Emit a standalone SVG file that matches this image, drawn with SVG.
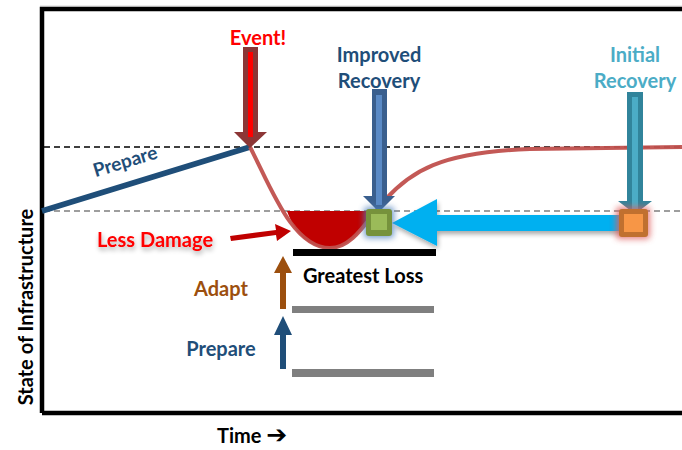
<svg xmlns="http://www.w3.org/2000/svg" width="682" height="450" viewBox="0 0 682 450">
<style>
text{font-family:Lato,"Open Sans","Liberation Sans",sans-serif;font-weight:bold;}
.t20{font-size:20px;}
.mid{text-anchor:middle;}
.frame{stroke:#000;stroke-width:4.5;fill:none;}
.dash-b{stroke:#000;stroke-width:1.6;stroke-dasharray:6 4;fill:none;}
.dash-g{stroke:#7f7f7f;stroke-width:1.6;stroke-dasharray:6 4;fill:none;}
.bar-g{fill:#7f7f7f;}
</style>
<defs>
<filter id="shadow" x="-20%" y="-40%" width="140%" height="200%">
<feGaussianBlur in="SourceAlpha" stdDeviation="2.5"/>
<feOffset dx="1" dy="3" result="b"/>
<feComponentTransfer><feFuncA type="linear" slope="0.35"/></feComponentTransfer>
<feMerge><feMergeNode/><feMergeNode in="SourceGraphic"/></feMerge>
</filter>
<filter id="blur" x="-50%" y="-50%" width="200%" height="200%">
<feGaussianBlur stdDeviation="3"/>
</filter>
</defs>

<g id="axes">
<line x1="40" y1="6" x2="682" y2="6" stroke="#d9d9d9" stroke-width="1"/>
<path class="frame" d="M42,413 L42,9 L682,9 M42,413 L682,413"/>
</g>

<g id="reference-lines">
<line class="dash-b" x1="44" y1="147" x2="682" y2="147"/>
<line class="dash-g" x1="44" y1="211" x2="682" y2="211"/>
</g>

<g id="loss-area">
<path d="M287,211 C296,236 310,248 330,248 C348,248 360,232 372,214 L372,211 Z" fill="#c00000"/>
</g>

<g id="connectors">
<line x1="42" y1="211" x2="250" y2="147" stroke="#1f4e79" stroke-width="5.5"/>
<path d="M250,147 C270,185 292,248 330,248 C352,248 366,222 385,200 C410,172 440,152 530,149 L682,147" fill="none" stroke="#c0504d" stroke-width="4" opacity="0.95"/>
<polygon points="230,236 276,230 275,224 291,231 277,241 276,235 231,241" fill="#c00000"/>
<polygon points="280,309 286,309 286,273 292,273 283,256 274,273 280,273" fill="#9c4f0e"/>
<polygon points="280,369 286,369 286,335 292,335 283,316 274,335 280,335" fill="#1f4e79"/>
<polygon points="392,223 437,199 437,215 625,215 625,231 437,231 437,246" fill="#00b0f0" filter="url(#shadow)"/>
</g>

<g id="event">
<text class="t20 mid" x="258" y="45" fill="#ff0000">Event!</text>
<polygon points="243,47 258,47 258,132 267,132 250,148 234,132 243,132" fill="#8c3636"/>
<rect x="248" y="52" width="5" height="85" fill="#ff0000"/>
</g>

<g id="prepare-slope-label">
<text x="125" y="168" class="mid" font-size="19" fill="#1f4e79" transform="rotate(-17 125 161)">Prepare</text>
</g>

<g id="improved-recovery">
<text class="t20 mid" x="379" y="62" fill="#1f4e79">Improved</text>
<text class="t20 mid" x="379" y="88" fill="#1f4e79">Recovery</text>
<polygon points="372,89 387,89 387,196 395,196 379,212 363,196 372,196" fill="#3a5f8e"/>
<rect x="376" y="95" width="6" height="110" fill="#5a8ac6"/>
</g>

<g id="improved-point">
<rect x="364" y="207" width="30" height="31" rx="4" fill="#4f81bd" filter="url(#blur)" opacity="0.8"/>
<rect x="366" y="209" width="26" height="27" rx="3" fill="#76923c"/>
<rect x="371" y="214" width="16" height="16" fill="#9bbb59"/>
</g>

<g id="initial-recovery">
<text class="t20 mid" x="635" y="62" fill="#4bacc6">Initial</text>
<text class="t20 mid" x="635" y="88" fill="#4bacc6">Recovery</text>
<polygon points="627,92 643,92 643,201 652,201 635,214 618,201 627,201" fill="#31849b"/>
<rect x="632" y="97" width="6" height="112" fill="#4bacc6"/>
</g>

<g id="initial-point">
<rect x="616" y="207" width="34" height="32" rx="4" fill="#e06060" filter="url(#blur)" opacity="0.8"/>
<rect x="619" y="209" width="29" height="28" rx="3" fill="#c0702f"/>
<rect x="624" y="214" width="19" height="18" fill="#f79646"/>
</g>

<g id="less-damage">
<text class="t20" x="97" y="247" fill="#ff0000" filter="url(#shadow)">Less Damage</text>
</g>

<g id="greatest-loss">
<rect x="293" y="249" width="143" height="7" fill="#000"/>
<text class="t20" x="303" y="283" fill="#000">Greatest Loss</text>
</g>

<g id="adapt">
<rect class="bar-g" x="292" y="306" width="142" height="7"/>
<text class="t20 mid" x="221" y="296" fill="#9c4f0e">Adapt</text>
</g>

<g id="prepare">
<rect class="bar-g" x="292" y="369" width="142" height="8"/>
<text class="t20 mid" x="221" y="356" fill="#1f4e79">Prepare</text>
</g>

<g id="axis-labels">
<text class="t20" x="217" y="443" fill="#000">Time <tspan font-family="'DejaVu Sans',sans-serif" font-size="25">➔</tspan></text>
<text class="t20 mid" x="0" y="0" fill="#000" transform="translate(33,307) rotate(-90)">State of Infrastructure</text>
</g>
</svg>
